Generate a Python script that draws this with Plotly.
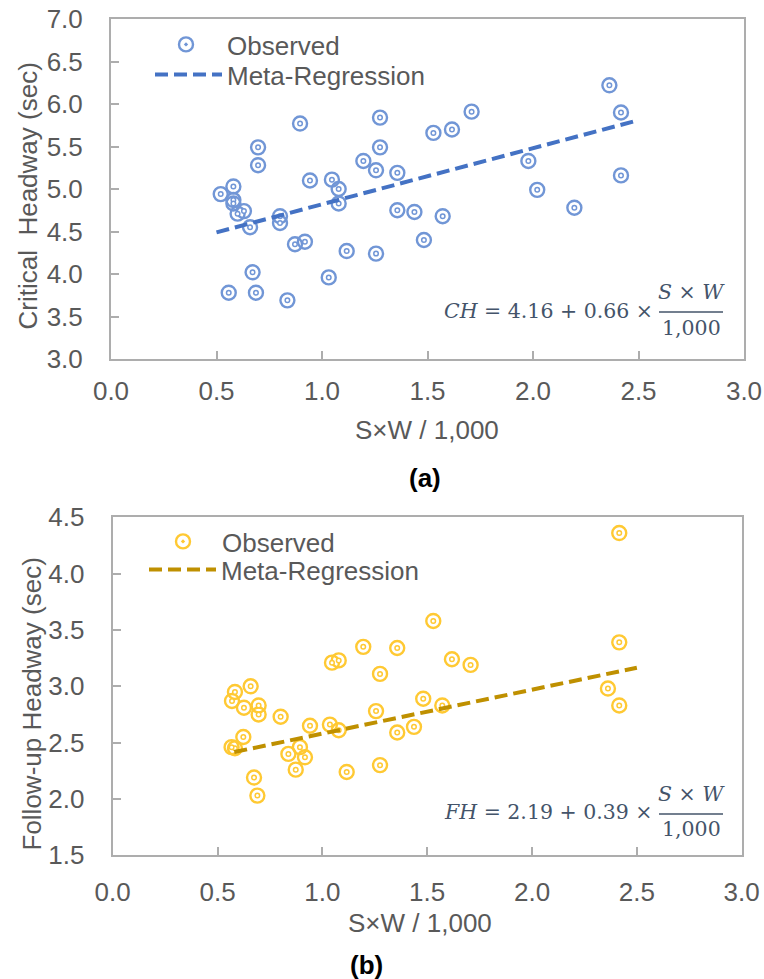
import numpy as np
import plotly.graph_objects as go

# ---------------- data ----------------
ch_x = [0.896, 0.697, 0.697, 1.275, 1.275, 1.196, 1.256, 1.357, 0.943, 1.047,
        1.079, 1.079, 1.528, 1.616, 1.709, 0.520, 0.580, 0.580, 0.580, 0.600,
        0.630, 0.659, 0.801, 0.801, 0.872, 0.919, 1.117, 1.256, 1.357, 1.438,
        1.572, 1.483, 0.671, 0.558, 0.687, 0.836, 1.032, 2.362, 2.417, 1.978,
        2.020, 2.196, 2.417]
ch_y = [5.77, 5.49, 5.28, 5.84, 5.49, 5.33, 5.22, 5.19, 5.10, 5.11,
        5.00, 4.83, 5.66, 5.70, 5.91, 4.94, 5.03, 4.87, 4.83, 4.71,
        4.74, 4.55, 4.68, 4.60, 4.35, 4.38, 4.27, 4.24, 4.75, 4.73,
        4.68, 4.40, 4.02, 3.78, 3.78, 3.69, 3.96, 6.22, 5.90, 5.33,
        4.99, 4.78, 5.16]

fh_x = [1.529, 1.195, 1.357, 1.046, 1.078, 1.275, 1.618, 1.707, 0.583, 0.658,
        0.569, 0.626, 0.696, 0.696, 0.801, 0.941, 1.036, 1.078, 1.256, 1.357,
        1.437, 1.481, 1.572, 0.623, 0.583, 0.567, 0.838, 0.893, 0.917, 0.873,
        1.116, 1.275, 0.674, 0.690, 2.416, 2.416, 2.362, 2.416]
fh_y = [3.58, 3.35, 3.34, 3.21, 3.23, 3.11, 3.24, 3.19, 2.95, 3.00,
        2.87, 2.81, 2.83, 2.75, 2.73, 2.65, 2.66, 2.61, 2.78, 2.59,
        2.64, 2.89, 2.83, 2.55, 2.45, 2.46, 2.40, 2.46, 2.37, 2.26,
        2.24, 2.30, 2.19, 2.03, 4.36, 3.39, 2.98, 2.83]

ch_intercept, ch_slope = 4.16, 0.66
ch_line_x = [0.5, 2.5]
fh_intercept, fh_slope = 2.19, 0.39
fh_line_x = [0.58, 2.5]

x_ticks = [0.0, 0.5, 1.0, 1.5, 2.0, 2.5, 3.0]
ch_y_ticks = [3.0, 3.5, 4.0, 4.5, 5.0, 5.5, 6.0, 6.5, 7.0]
fh_y_ticks = [1.5, 2.0, 2.5, 3.0, 3.5, 4.0, 4.5]

# ---------------- styling ----------------
W, H = 764, 979
def px(x):
    return x / W
def py(y):
    return 1 - y / H

FONT = "Liberation Sans, Arial, sans-serif"
TXT = "#595959"
AX = "#ADADAD"
EQ = "#44546A"
BLUE_M = "#7196D6"
BLUE_L = "#4472C4"
GOLD_M = "#FFC933"
GOLD_L = "#BF9000"

ch_line_y = ch_intercept + ch_slope * np.array(ch_line_x)
fh_line_y = fh_intercept + fh_slope * np.array(fh_line_x)

fig = go.Figure()

def add_scatter(xs, ys, color, xa, ya, leg):
    fig.add_trace(go.Scatter(
        x=xs, y=ys, mode="markers", name="Observed", xaxis=xa, yaxis=ya, legend=leg,
        marker=dict(symbol="circle-open-dot", size=14, color=color,
                    line=dict(width=2.4, color=color))))
    fig.add_trace(go.Scatter(
        x=xs, y=ys, mode="markers", showlegend=False, xaxis=xa, yaxis=ya, hoverinfo="skip",
        marker=dict(symbol="circle", size=4.5, color="white",
                    line=dict(width=1.5, color=color))))

add_scatter(ch_x, ch_y, BLUE_M, "x", "y", "legend")
fig.add_trace(go.Scatter(x=ch_line_x, y=ch_line_y, mode="lines", name="Meta-Regression",
                         xaxis="x", yaxis="y", legend="legend3",
                         line=dict(color=BLUE_L, width=4, dash="13px,6px")))
add_scatter(fh_x, fh_y, GOLD_M, "x2", "y2", "legend2")
fig.add_trace(go.Scatter(x=fh_line_x, y=fh_line_y, mode="lines", name="Meta-Regression",
                         xaxis="x2", yaxis="y2", legend="legend4",
                         line=dict(color=GOLD_L, width=4, dash="13px,6px")))

axis_common = dict(showgrid=False, zeroline=False, showline=True, mirror=True,
                   linecolor=AX, linewidth=2, ticks="inside", ticklen=8, tickwidth=1.5,
                   tickcolor=AX, automargin=False,
                   tickfont=dict(family=FONT, size=26, color=TXT))

def leg(x, y, iw):
    return dict(x=px(x), y=py(y), xanchor="left", yanchor="top", itemwidth=iw,
                bgcolor="rgba(0,0,0,0)", font=dict(family=FONT, size=26, color=TXT))

fig.update_layout(
    width=W, height=H, margin=dict(l=0, r=0, t=0, b=0, autoexpand=False),
    paper_bgcolor="white", plot_bgcolor="white", showlegend=True,
    xaxis=dict(domain=[px(111), px(744)], range=[0, 3], tickvals=x_ticks,
               ticktext=[f"{v:.1f}" for v in x_ticks], anchor="y",
               ticklabelstandoff=8, **axis_common),
    yaxis=dict(domain=[py(359), py(19)], range=[3, 7], tickvals=ch_y_ticks,
               ticktext=[f"{v:.1f}" for v in ch_y_ticks], anchor="x",
               ticklabelstandoff=21, **axis_common),
    xaxis2=dict(domain=[px(112.7), px(741.7)], range=[0, 3], tickvals=x_ticks,
                ticktext=[f"{v:.1f}" for v in x_ticks], anchor="y2",
                ticklabelstandoff=12, **axis_common),
    yaxis2=dict(domain=[py(855.3), py(517.3)], range=[1.5, 4.5], tickvals=fh_y_ticks,
                ticktext=[f"{v:.1f}" for v in fh_y_ticks], anchor="x2",
                ticklabelstandoff=21, **axis_common),
    legend=leg(145, 21, 72),
    legend3=leg(150, 51, 67),
    legend2=leg(144, 518, 68),
    legend4=leg(144, 546, 67),
)

ann = []
def txt(x, y, s, size=26, color=TXT, font=FONT, xanchor="center", angle=0):
    ann.append(dict(x=px(x), y=py(y), xref="paper", yref="paper", text=s, showarrow=False,
                    xanchor=xanchor, yanchor="middle", textangle=angle,
                    font=dict(family=font, size=size, color=color)))

# axis titles
txt(427, 430, "S×W / 1,000")
txt(420, 923, "S×W / 1,000")
txt(27.5, 196, "Critical\u00a0 Headway (sec)", angle=-90)
txt(31.5, 704, "Follow-up Headway (sec)", angle=-90)
# panel labels
txt(425, 478, "<b>(a)</b>", color="black")
txt(366, 965, "<b>(b)</b>", color="black")

# equations
SERIF = "DejaVu Serif, serif"
def equation(lhs, b0, b1, y_main, y_num, y_bar, y_den):
    txt(655, y_main, f"<i>{lhs}</i> = {b0:.2f} + {b1:.2f} ×", size=20.5, color=EQ,
        font=SERIF, xanchor="right")
    txt(691, y_num, "<i>S</i> × <i>W</i>", size=20.5, color=EQ, font=SERIF)
    txt(691, y_den, "1,000", size=20.5, color=EQ, font=SERIF)
    fig.add_shape(type="line", xref="paper", yref="paper", x0=px(659), x1=px(723),
                  y0=py(y_bar), y1=py(y_bar), line=dict(color=EQ, width=1.5))

equation("CH", ch_intercept, ch_slope, 311, 292, 312, 328)
equation("FH", fh_intercept, fh_slope, 812, 794, 814, 829)

fig.update_layout(annotations=ann)
fig.write_html("out.html")
